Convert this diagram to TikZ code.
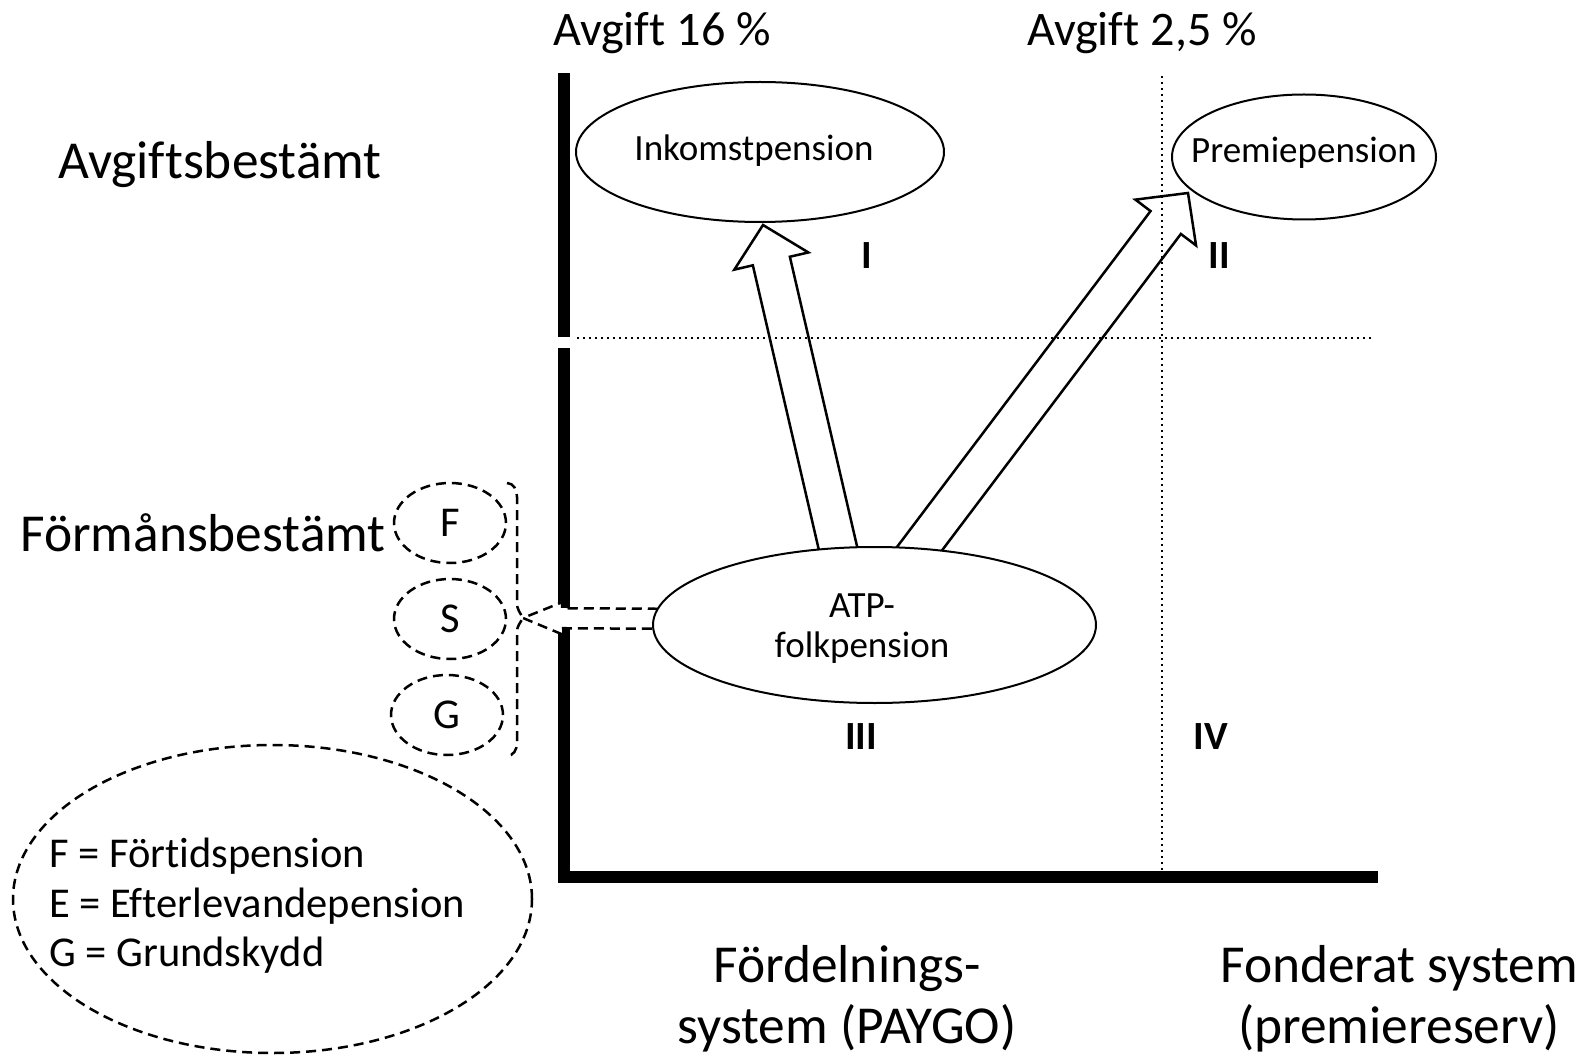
\documentclass[tikz,border=0pt]{standalone}
\usepackage{fontspec}
\setmainfont{Carlito}[Ligatures=NoCommon]
\usetikzlibrary{calc,shapes.geometric}
% #1 style, #2 start, #3 tip, #4 shaft half width, #5 head half width, #6 head length
\newcommand\blockarr[6]{%
  \coordinate (bah) at ($(#3)!#6!(#2)$);
  \path[#1] ($(#2)!#4!90:(#3)$) -- ($(bah)!#4!90:(#3)$) -- ($(bah)!#5!90:(#3)$) -- (#3)
    -- ($(bah)!#5!-90:(#3)$) -- ($(bah)!#4!-90:(#3)$) -- ($(#2)!#4!-90:(#3)$) -- cycle;}
\tikzset{
  big/.style={font=\fontsize{53.4}{61}\selectfont, inner sep=0pt, align=center},
  mid/.style={font=\fontsize{48.2}{56}\selectfont, inner sep=0pt},
  med/.style={font=\fontsize{37}{40}\selectfont, inner sep=0pt, align=center},
  leg/.style={font=\fontsize{42.5}{50}\selectfont, inner sep=0pt},
  roman/.style={font=\fontsize{40}{48}\selectfont\bfseries, inner sep=0pt},
  dashline/.style={line width=2.5pt, dash pattern=on 10pt off 6pt},
  dotline/.style={line width=2pt, dash pattern=on 2pt off 4pt},
  axisline/.style={line width=12pt},
  solidell/.style={draw, ellipse, line width=2pt, inner sep=0pt, fill=white},
  dashell/.style={draw, ellipse, dashline, inner sep=0pt},
  barrow/.style={draw, line width=2.5pt, line join=miter},
  dbarrow/.style={draw, dashline, fill=white, line join=miter},
}
\begin{document}
\begin{tikzpicture}[x=1pt,y=-1pt]
\useasboundingbox (0,0) rectangle (1587,1056);

% axes
\draw[axisline] (564,73) -- (564,337);
\draw[axisline] (564,348) -- (564,883);
\draw[axisline] (558,877) -- (1378,877);

% dotted quadrant lines
\draw[dotline] (577,338) -- (1374,338);
\draw[dotline] (1162,76) -- (1162,872);

% nodes
\node[solidell, minimum width=368pt, minimum height=140pt] (ink) at (760,152) {};
\node[med] (inktext) at ($(ink.center)+(-6,-1)$) {Inkomstpension};
\node[solidell, minimum width=264pt, minimum height=125pt] (prem) at (1304,157) {};
\node[med] (premtext) at ($(prem.center)+(0,-4)$) {Premiepension};

% block arrows
\coordinate (a1s) at (853,613);
\coordinate (a1t) at (763,225);
\coordinate (a2s) at (880,601);
\coordinate (a2t) at (1188,193);
\coordinate (brace) at (523,618);
\coordinate (a3s) at (700,619);
\blockarr{barrow}{a1s}{a1t}{19pt}{38pt}{37pt}
\blockarr{barrow}{a2s}{a2t}{19pt}{38pt}{37pt}
\blockarr{dbarrow}{a3s}{brace}{10pt}{16pt}{39pt}

\node[solidell, minimum width=443pt, minimum height=156pt] (atp) at (874.5,625) {};
\node[med] (atptext) at (862,629) {ATP-\\folkpension};

% F S G
\node[dashell, minimum width=112pt, minimum height=80pt] (f) at (450,523) {};
\node[dashell, minimum width=112pt, minimum height=80pt] (s) at (450,619) {};
\node[dashell, minimum width=112pt, minimum height=80pt] (g) at (447,715) {};
\node[leg] at (f.center) {F};
\node[leg] at (s.center) {S};
\node[leg] at (g.center) {G};

% brace
\draw[dashline] (507,483) to[out=0,in=90] (517,497) -- (517,603)
  to[out=-90,in=120] (brace) to[out=240,in=90] (517,632) -- (517,743)
  to[out=-90,in=0] (507,756);

% legend
\node[dashell, minimum width=519pt, minimum height=308pt] (legend) at (272.5,899) {};
\node[leg, anchor=base west] (l1) at (49,867) {F = Förtidspension};
\node[leg, anchor=base west] (l2) at (49,917) {E = Efterlevandepension};
\node[leg, anchor=base west] (l3) at (49,966) {G = Grundskydd};

% labels
\node[mid, anchor=base] (av16) at (662,46) {Avgift 16 \%};
\node[mid, anchor=base] (av25) at (1142,46) {Avgift 2,5 \%};
\node[big, anchor=base west] (avb) at (58,179) {Avgiftsbestämt};
\node[big, anchor=base west] (fob) at (20,551) {Förmånsbestämt};
\node[big] (paygo) at (847,999) {Fördelnings-\\system (PAYGO)};
\node[big] (fond) at (1399,999) {Fonderat system\\(premiereserv)};

\node[roman] (q1) at (867,256) {I};
\node[roman] (q2) at (1219,256) {II};
\node[roman] (q3) at (861,737) {III};
\node[roman] (q4) at (1211,737) {IV};
\end{tikzpicture}
\end{document}
